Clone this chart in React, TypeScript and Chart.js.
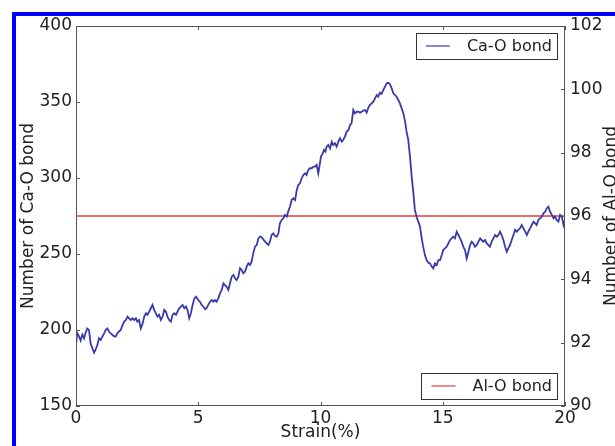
import React, { useEffect, useRef } from "react";
import { Chart, registerables } from "chart.js";

Chart.register(...registerables);

const strain = [
  0.0, 0.05, 0.12, 0.19, 0.26, 0.33, 0.39, 0.46, 0.53, 0.6, 0.67, 0.74, 0.8, 0.87, 0.94, 1.01, 1.08, 1.15, 1.21, 1.28,
  1.35, 1.42, 1.49, 1.55, 1.62, 1.69, 1.76, 1.83, 1.9, 1.97, 2.04, 2.11, 2.17, 2.24, 2.31, 2.38, 2.45, 2.51, 2.58, 2.65,
  2.72, 2.79, 2.86, 2.92, 2.99, 3.06, 3.13, 3.2, 3.27, 3.33, 3.4, 3.47, 3.54, 3.61, 3.68, 3.74, 3.81, 3.88, 3.95, 4.02,
  4.09, 4.15, 4.22, 4.29, 4.36, 4.43, 4.5, 4.56, 4.63, 4.7, 4.77, 4.84,
  4.91, 5.0, 5.07, 5.14, 5.21, 5.28, 5.34, 5.41, 5.48, 5.55, 5.62, 5.68, 5.75, 5.82, 5.89, 5.96, 6.03, 6.09, 6.16, 6.23,
  6.3, 6.37, 6.44, 6.5, 6.57, 6.64, 6.71, 6.78, 6.84, 6.91, 6.98, 7.05, 7.12, 7.18, 7.25, 7.32, 7.39, 7.46, 7.53, 7.59,
  7.66, 7.73, 7.8, 7.87, 7.93, 8.0, 8.07, 8.14, 8.21, 8.28, 8.34, 8.41, 8.48, 8.55, 8.62, 8.68, 8.75, 8.82, 8.89, 8.96,
  9.03, 9.09, 9.16, 9.23, 9.3, 9.37, 9.43, 9.5, 9.57, 9.64, 9.71, 9.78, 9.84, 9.91,
  10.02, 10.09, 10.14, 10.2, 10.25, 10.32, 10.39, 10.46, 10.52, 10.59, 10.66, 10.73, 10.8, 10.87, 10.93, 11.0, 11.07,
  11.14, 11.21, 11.27, 11.34, 11.41, 11.48, 11.55, 11.62, 11.68, 11.75, 11.82, 11.89, 11.96, 12.02, 12.09, 12.16, 12.23,
  12.3, 12.36, 12.43, 12.5, 12.57, 12.64, 12.71, 12.77, 12.84, 12.91, 12.98, 13.05, 13.11, 13.18, 13.25, 13.32, 13.39,
  13.46, 13.52, 13.59, 13.66, 13.73, 13.8, 13.86, 13.93, 14.0, 14.07, 14.14, 14.2, 14.27, 14.34, 14.41, 14.48, 14.55,
  14.61, 14.68, 14.75, 14.82,
  14.89, 14.96, 15.02, 15.09, 15.16, 15.23, 15.3, 15.36, 15.43, 15.5, 15.57, 15.64, 15.71, 15.77, 15.84, 15.91, 15.98,
  16.05, 16.12, 16.18, 16.25, 16.32, 16.39, 16.46, 16.53, 16.59, 16.66, 16.73, 16.8, 16.87, 16.93, 17.0, 17.07, 17.14,
  17.21, 17.28, 17.34, 17.41, 17.48, 17.55, 17.62, 17.68, 17.75, 17.82, 17.89, 17.96, 18.03, 18.09, 18.16, 18.23, 18.3,
  18.37, 18.44, 18.5, 18.57, 18.64, 18.71, 18.78, 18.84, 18.91, 18.98, 19.05, 19.12, 19.19, 19.25, 19.32, 19.39, 19.46,
  19.53, 19.59, 19.66, 19.73, 19.8, 19.87, 19.94, 20.0,
];

const caOBond = [
  190, 198, 196, 193, 197, 194.5, 198, 201, 200, 191, 188, 185, 187, 190, 194.5, 193.4, 195.6, 197.8, 200, 201,
  199, 197.8, 196.7, 196, 195.6, 197.8, 199, 200, 203, 205.5, 206.6, 208.8, 207.7, 206.6, 207.7, 206.6, 207.7, 205.5, 206.6, 201,
  204, 208.8, 211, 210, 212, 214.3, 216.5, 213, 211, 208.8, 210, 206.6, 208.8, 213.2, 212, 208.8, 206.6, 205.5, 209.9, 211,
  210, 212, 214.3, 215.4, 216.5, 214.3, 215.4, 213.2, 207.7, 211, 216.5, 220.8,
  221.9, 219.7, 218.6, 216.5, 215.3, 213.6, 214.3, 216.5, 218.6, 219.7, 218.6, 219.7, 218.6, 220.8, 224.1, 226.3, 230.7, 229.6, 228.5, 226.3,
  230.7, 235.1, 236.2, 234, 232.9, 235.1, 240.6, 239.5, 237.3, 238.4, 241.7, 243.9, 242.8, 245, 250.4, 254.8, 255.9, 260.3, 261.4, 261,
  259.6, 258.1, 257, 255.9, 258.1, 262.5, 263.6, 261.8, 261.4, 263.6, 270.2, 272.4, 273.5, 275.7, 274.6, 277.9, 281.1, 285.5, 286.6, 285.5,
  292.1, 295.4, 296.5, 299.8, 302, 303.1, 302, 305.3, 306.4, 306.4, 307.5, 307.5, 308.6, 303.1,
  314.1, 316.2, 318.4, 317.3, 320.6, 321.7, 319.5, 323.9, 321.7, 322.8, 320.6, 323.9, 326.1, 323.9, 325, 327.2, 330.5,
  331.5, 334.9, 336, 344.7, 342.5, 343.6, 343.6, 343, 343.6, 344.3, 344.7, 343, 346.5, 348, 349.1, 350.2, 352.4,
  354.6, 353.5, 356.1, 355.3, 357.9, 360.1, 362.3, 362.7, 361.8, 359, 355.7, 354.6, 353.5, 351.3, 349.1, 345.8, 342.5,
  337.1, 330.5, 325, 314.1, 300.9, 289.9, 279, 274.5, 271.3, 268, 260.3, 254.8, 249.3, 246, 244.3, 243.8, 241.7,
  240.5, 243.8, 242.7, 246,
  246, 249.3, 252.6, 253.7, 254.8, 257, 259.2, 260.3, 261.4, 260.3, 264.7, 262.5, 260.3, 258.1, 254.8, 252.6, 247.1,
  251.5, 255.9, 258.1, 257, 254.8, 255.9, 258.1, 260.3, 259.2, 258.1, 259.2, 257, 255.9, 254.8, 258.1, 260.3, 262.5,
  261.4, 262.5, 264.7, 262.5, 259.2, 254.8, 251.5, 253.7, 255.9, 259.2, 262.5, 265.8, 264.7, 265.8, 266.9, 269.1, 266.9,
  264.7, 262.5, 264.7, 266.9, 269.1, 271.3, 270.2, 269.1, 272.4, 273.5, 274.6, 276.7, 277.8, 280, 281.1, 277.8, 275.7,
  273.5, 274.6, 272.4, 271.3, 275.7, 274.6, 269.1, 272.4,
];

const alStrain = [0, 20];
const alOBond = [96, 96];

const seriesLabels = ["Ca-O bond", "Al-O bond"];
const leftAxisTitle = "Number of Ca-O bond";
const rightAxisTitle = "Number of Al-O bond";
const xAxisTitle = "Strain(%)";

const FONT = "'DejaVu Sans', sans-serif";
const TEXT = "#222";
const AXIS = "#555";
const BLUE = "#3a3aa8";
const RED = "#e23b45";

const framePlugin = {
  id: "frameTicks",
  afterDraw(chart: any) {
    const { ctx, chartArea: ca, scales } = chart;
    ctx.save();
    ctx.strokeStyle = AXIS;
    ctx.lineWidth = 1;
    ctx.strokeRect(ca.left + 0.5, ca.top + 0.5, ca.right - ca.left - 1, ca.bottom - ca.top - 1);
    const L = 4;
    ctx.beginPath();
    scales.x.ticks.forEach((t: any) => {
      const px = Math.round(scales.x.getPixelForValue(t.value)) + 0.5;
      ctx.moveTo(px, ca.bottom);
      ctx.lineTo(px, ca.bottom - L);
      ctx.moveTo(px, ca.top);
      ctx.lineTo(px, ca.top + L);
    });
    scales.y.ticks.forEach((t: any) => {
      const py = Math.round(scales.y.getPixelForValue(t.value)) + 0.5;
      ctx.moveTo(ca.left, py);
      ctx.lineTo(ca.left + L, py);
    });
    scales.y1.ticks.forEach((t: any) => {
      const py = Math.round(scales.y1.getPixelForValue(t.value)) + 0.5;
      ctx.moveTo(ca.right, py);
      ctx.lineTo(ca.right - L, py);
    });
    ctx.stroke();

    // right axis title (reads bottom-to-top)
    ctx.fillStyle = TEXT;
    ctx.font = `17px ${FONT}`;
    ctx.save();
    ctx.translate(ca.right + 47, (ca.top + ca.bottom) / 2);
    ctx.rotate(-Math.PI / 2);
    ctx.textAlign = "center";
    ctx.textBaseline = "middle";
    ctx.fillText(rightAxisTitle, 0, 0);
    ctx.restore();

    // legends
    const drawLegend = (label: string, color: string, top: boolean) => {
      ctx.font = `16px ${FONT}`;
      const tw = ctx.measureText(label).width;
      const w = 10 + 24 + 17 + tw + 5;
      const h = 26;
      const right = ca.right - 8;
      const y0 = top ? ca.top + 7 : ca.bottom - 7 - h;
      const x0 = right - w;
      ctx.fillStyle = "#fff";
      ctx.fillRect(x0, y0, w, h);
      ctx.strokeStyle = "#333";
      ctx.lineWidth = 1;
      ctx.strokeRect(Math.round(x0) + 0.5, Math.round(y0) + 0.5, Math.round(w), h);
      ctx.strokeStyle = color;
      ctx.lineWidth = 1.2;
      ctx.beginPath();
      ctx.moveTo(x0 + 10, y0 + h / 2);
      ctx.lineTo(x0 + 34, y0 + h / 2);
      ctx.stroke();
      ctx.fillStyle = TEXT;
      ctx.textAlign = "left";
      ctx.textBaseline = "middle";
      ctx.fillText(label, x0 + 51, y0 + h / 2 + 1);
    };
    drawLegend(seriesLabels[0], BLUE, true);
    drawLegend(seriesLabels[1], RED, false);
    ctx.restore();
  },
};

export default function App() {
  const ref = useRef<HTMLCanvasElement>(null);
  useEffect(() => {
    if (!ref.current) return;
    const chart = new Chart(ref.current, {
      type: "line",
      data: {
        datasets: [
          {
            label: seriesLabels[0],
            data: strain.map((x, i) => ({ x, y: caOBond[i] })),
            borderColor: BLUE,
            borderWidth: 1.8,
            pointRadius: 0,
            tension: 0,
            yAxisID: "y",
          },
          {
            label: seriesLabels[1],
            data: alStrain.map((x, i) => ({ x, y: alOBond[i] })),
            borderColor: RED,
            borderWidth: 1.3,
            pointRadius: 0,
            tension: 0,
            yAxisID: "y1",
          },
        ],
      },
      options: {
        animation: false,
        responsive: false,
        layout: { padding: { top: 26, left: 0, right: 0, bottom: 0 } },
        plugins: { legend: { display: false }, tooltip: { enabled: false } },
        scales: {
          x: {
            type: "linear",
            min: 0,
            max: 20,
            ticks: { stepSize: 5, color: TEXT, font: { size: 17, family: FONT }, padding: 2, maxRotation: 0 },
            grid: { display: false, drawTicks: false },
            border: { display: false },
            title: { display: true, text: xAxisTitle, color: TEXT, font: { size: 17, family: FONT }, padding: { top: 0, bottom: 3 } },
            afterFit: (s: any) => { s.height = 40; },
          },
          y: {
            position: "left",
            min: 150,
            max: 400,
            ticks: { stepSize: 50, color: TEXT, font: { size: 17, family: FONT }, padding: 4 },
            grid: { display: false, drawTicks: false },
            border: { display: false },
            title: { display: true, text: leftAxisTitle, color: TEXT, font: { size: 17, family: FONT }, padding: { top: 18, bottom: 0 } },
            afterFit: (s: any) => { s.width = 76; },
          },
          y1: {
            position: "right",
            min: 90,
            max: 102,
            ticks: { stepSize: 2, color: TEXT, font: { size: 17, family: FONT }, padding: 5 },
            grid: { display: false, drawTicks: false },
            border: { display: false },
            afterFit: (s: any) => { s.width = 50; },
          },
        },
      },
      plugins: [framePlugin],
    } as any);
    return () => chart.destroy();
  }, []);

  return (
    <div style={{ position: "fixed", left: 0, top: 0, width: 615, height: 446, overflow: "hidden", background: "#fff" }}>
      <div
        style={{
          position: "absolute",
          left: 12,
          top: 12,
          width: 800,
          height: 800,
          borderLeft: "4px solid #0000ff",
          borderTop: "4px solid #0000ff",
        }}
      />
      <canvas ref={ref} width={615} height={446} style={{ position: "absolute", left: 0, top: 0 }} />
    </div>
  );
}
